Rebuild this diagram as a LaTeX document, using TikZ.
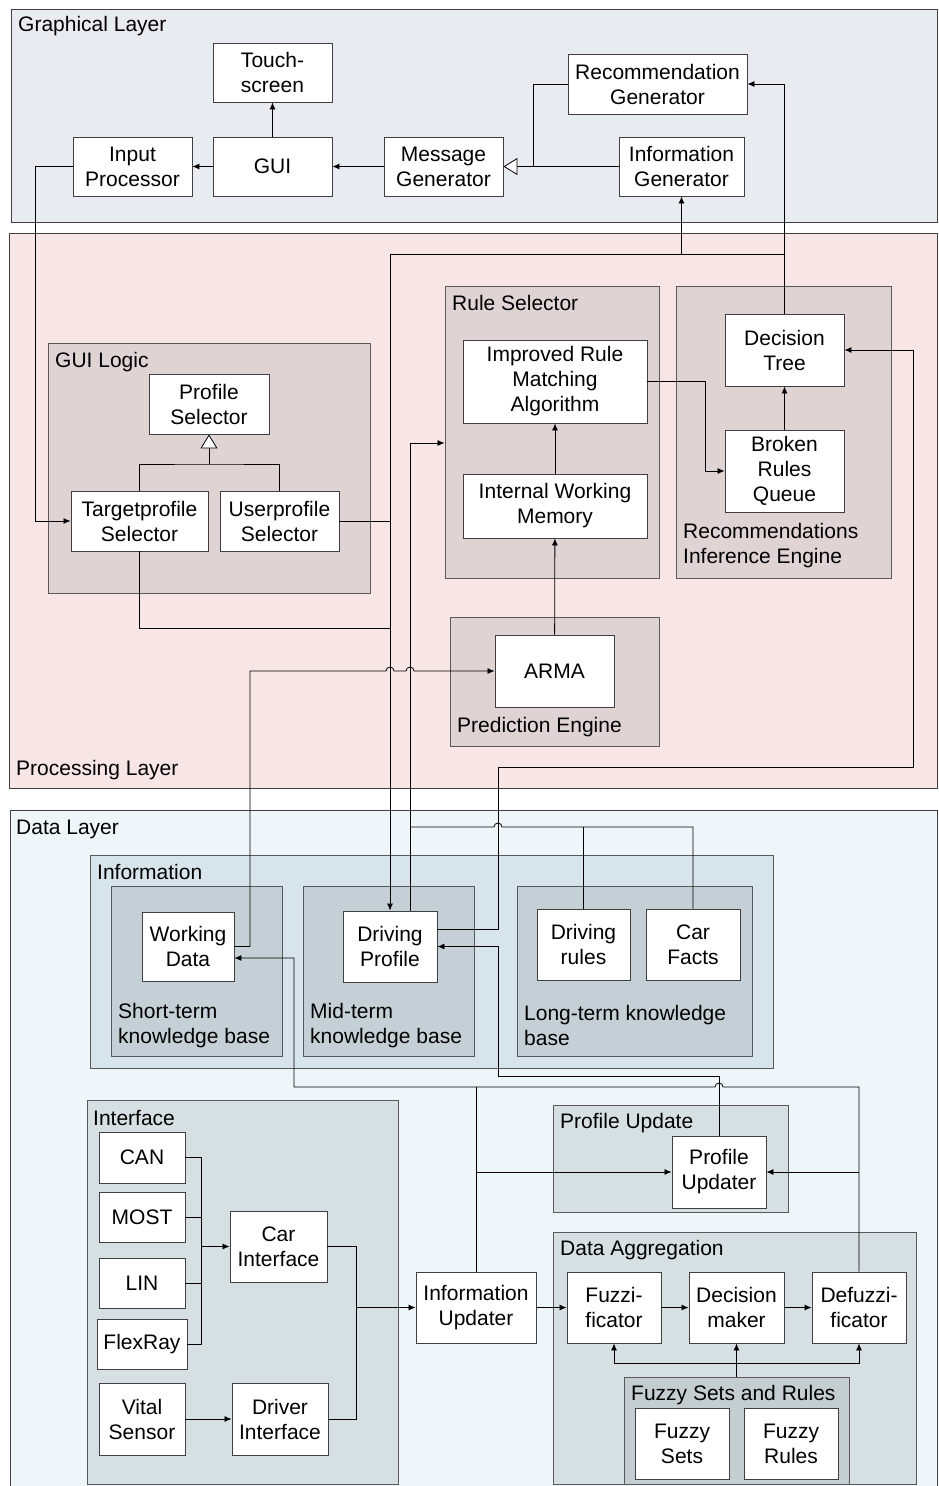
\documentclass[tikz,border=0pt]{standalone}
\usepackage{fontspec}
\setmainfont{Liberation Sans}
\usetikzlibrary{arrows.meta,positioning}

\definecolor{glayerbg}{HTML}{E8EBF0}
\definecolor{playerbg}{HTML}{F8E5E6}
\definecolor{dlayerbg}{HTML}{EEF6F9}
\definecolor{pgroupbg}{HTML}{E0D3D4}
\definecolor{infobg}{HTML}{D8E4EC}
\definecolor{kbbg}{HTML}{C5D0D6}
\definecolor{dgroupbg}{HTML}{D6DFE1}
\definecolor{fuzzybg}{HTML}{C4CDD0}

\tikzset{
  layer/.style={draw=black!75, line width=0.9pt, inner sep=0pt},
  group/.style={draw=black!65, line width=0.9pt, inner sep=0pt},
  block/.style={draw=black!75, fill=white, line width=0.9pt, align=center, inner sep=0pt},
  lbl/.style={anchor=west, inner sep=0pt, align=left},
  conn/.style={line width=0.8pt},
  arr/.style={conn, -{Latex[length=7pt,width=6pt]}},
  gen/.style={conn, -{Triangle[length=14pt,width=17pt,fill=white]}},
}

\begin{document}
\begin{tikzpicture}[x=1pt,y=-1pt,font=\fontsize{21}{25}\selectfont]
  \useasboundingbox (0,0) rectangle (938,1486);

  % Layers
  \node[layer, fill=glayerbg, minimum width=926pt, minimum height=213pt] (glayer) at (474,115.5) {};
  \node[layer, fill=playerbg, minimum width=928pt, minimum height=555pt] (player) at (473,510.5) {};
  \node[layer, fill=dlayerbg, minimum width=927pt, minimum height=690pt] (dlayer) at (473.5,1155) {};
  \node[lbl] (glabel) at (18,26) {Graphical Layer};
  \node[lbl] (plabel) at (16,770) {Processing Layer};
  \node[lbl] (dlabel) at (16,829) {Data Layer};

  % Groups in the processing layer
  \node[group, fill=pgroupbg, minimum width=322pt, minimum height=250pt] (guilogic) at (209,468) {};
  \node[lbl] (guilogiclbl) at (55,362) {GUI Logic};
  \node[group, fill=pgroupbg, minimum width=214pt, minimum height=292pt] (rulesel) at (552,432) {};
  \node[lbl] (ruleselbl) at (452,303) {Rule Selector};
  \node[group, fill=pgroupbg, minimum width=215pt, minimum height=292pt] (rieng) at (783.5,432) {};
  \node[lbl] (rienglbl) at (683,545.5) {Recommendations\\Inference Engine};
  \node[group, fill=pgroupbg, minimum width=209pt, minimum height=129pt] (predeng) at (554.5,681.5) {};
  \node[lbl] (predenglbl) at (457,727) {Prediction Engine};

  % Groups in the data layer
  \node[group, fill=infobg, minimum width=683pt, minimum height=213pt] (info) at (431.5,961.5) {};
  \node[lbl] (infolbl) at (97,872) {Information};
  \node[group, fill=kbbg, minimum width=171pt, minimum height=170pt] (stkb) at (196.5,971) {};
  \node[lbl] (stkblbl) at (118,1025.5) {Short-term\\knowledge base};
  \node[group, fill=kbbg, minimum width=171pt, minimum height=170pt] (mtkb) at (388.5,971) {};
  \node[lbl] (mtkblbl) at (310,1025.5) {Mid-term\\knowledge base};
  \node[group, fill=kbbg, minimum width=235pt, minimum height=170pt] (ltkb) at (634.5,971) {};
  \node[lbl] (ltkblbl) at (524,1025.5) {Long-term knowledge\\base};
  \node[group, fill=dgroupbg, minimum width=311pt, minimum height=384pt] (iface) at (242.5,1292) {};
  \node[lbl] (ifacelbl) at (93,1118) {Interface};
  \node[group, fill=dgroupbg, minimum width=235pt, minimum height=107pt] (profupd) at (670.5,1158.5) {};
  \node[lbl] (profupdlbl) at (560,1123) {Profile Update};
  \node[group, fill=dgroupbg, minimum width=363pt, minimum height=252pt] (dagg) at (734.5,1358) {};
  \node[lbl] (dagglbl) at (560,1250) {Data Aggregation};
  \node[group, fill=fuzzybg, minimum width=225pt, minimum height=107pt] (fsr) at (736.5,1430.5) {};
  \node[lbl] (fsrlbl) at (631,1395) {Fuzzy Sets and Rules};

  % Graphical layer blocks
  \node[block, minimum width=119pt, minimum height=59pt] (touch) at (272.5,72.5) {Touch-\\screen};
  \node[block, minimum width=119pt, minimum height=59pt] (gui) at (272.5,166.5) {GUI};
  \node[block, minimum width=119pt, minimum height=59pt] (inproc) at (132.5,166.5) {Input\\Processor};
  \node[block, minimum width=119pt, minimum height=59pt] (msggen) at (443.5,166.5) {Message\\Generator};
  \node[block, minimum width=179pt, minimum height=60pt] (recgen) at (657.5,84) {Recommendation\\Generator};
  \node[block, minimum width=125pt, minimum height=59pt] (infogen) at (681.5,166.5) {Information\\Generator};

  % Processing layer blocks
  \node[block, minimum width=120pt, minimum height=60pt] (profsel) at (209,404) {Profile\\Selector};
  \node[block, minimum width=137pt, minimum height=60pt] (tgtsel) at (139.5,521) {Targetprofile\\Selector};
  \node[block, minimum width=119pt, minimum height=60pt] (usrsel) at (279.5,521) {Userprofile\\Selector};
  \node[block, minimum width=184pt, minimum height=83pt] (irma) at (555,381.5) {Improved Rule\\Matching\\Algorithm};
  \node[block, minimum width=184pt, minimum height=64pt] (iwm) at (555,506) {Internal Working\\Memory};
  \node[block, minimum width=119pt, minimum height=72pt] (dtree) at (784.5,350) {Decision\\Tree};
  \node[block, minimum width=119pt, minimum height=82pt] (brq) at (784.5,471) {Broken\\Rules\\Queue};
  \node[block, minimum width=119pt, minimum height=72pt] (arma) at (554.5,671) {ARMA};

  % Data layer blocks
  \node[block, minimum width=92pt, minimum height=69pt] (wdata) at (188,946.5) {Working\\Data};
  \node[block, minimum width=94pt, minimum height=71pt] (dprof) at (390,946.5) {Driving\\Profile};
  \node[block, minimum width=93pt, minimum height=71pt] (drules) at (583.5,944.5) {Driving\\rules};
  \node[block, minimum width=94pt, minimum height=71pt] (carfacts) at (693,944.5) {Car\\Facts};
  \node[block, minimum width=86pt, minimum height=51pt] (can) at (142,1157.5) {CAN};
  \node[block, minimum width=86pt, minimum height=50pt] (most) at (142,1217) {MOST};
  \node[block, minimum width=86pt, minimum height=50pt] (lin) at (142,1283) {LIN};
  \node[block, minimum width=90pt, minimum height=50pt] (flexray) at (142,1344) {FlexRay};
  \node[block, minimum width=86pt, minimum height=72pt] (vital) at (142,1419) {Vital\\Sensor};
  \node[block, minimum width=97pt, minimum height=71pt] (carif) at (278.5,1246.5) {Car\\Interface};
  \node[block, minimum width=96pt, minimum height=72pt] (drvif) at (280,1419) {Driver\\Interface};
  \node[block, minimum width=120pt, minimum height=71pt] (infoupd) at (476,1307.5) {Information\\Updater};
  \node[block, minimum width=94pt, minimum height=72pt] (profupdr) at (719,1172) {Profile\\Updater};
  \node[block, minimum width=94pt, minimum height=71pt] (fuzz) at (614,1307.5) {Fuzzi-\\ficator};
  \node[block, minimum width=95pt, minimum height=71pt] (decm) at (736.5,1307.5) {Decision\\maker};
  \node[block, minimum width=94pt, minimum height=71pt] (defuzz) at (859,1307.5) {Defuzzi-\\ficator};
  \node[block, minimum width=94pt, minimum height=71pt] (fsets) at (682,1443.5) {Fuzzy\\Sets};
  \node[block, minimum width=94pt, minimum height=71pt] (frules) at (791,1443.5) {Fuzzy\\Rules};

  % Junctions
  \coordinate (genjoin) at (533,166.5);
  \coordinate (pjoin) at (209,464);
  \coordinate (infobus) at (390,254);
  \coordinate (tgtjoin) at (390,628);
  \coordinate (rsjoin) at (410,443);
  \coordinate (ltbus) at (410,827);
  \coordinate (cbus) at (201,1246.5);
  \coordinate (ifjoin) at (356,1307.5);
  \coordinate (fjoin) at (736.5,1363);
  \coordinate (updbus) at (476,1087);
  \coordinate (defbus) at (859,1087);

  % Graphical layer connectors
  \draw[arr] (gui) -- (touch);
  \draw[arr] (gui) -- (inproc);
  \draw[arr] (msggen) -- (gui);
  \draw[gen] (infogen) -- (msggen);
  \draw[conn] (recgen.west) -| (genjoin);
  \draw[arr] (dtree.north) |- (recgen.east);
  \draw[arr] (usrsel.east) -| (infobus) -| (infogen.south);
  \draw[conn] (infobus -| infogen.south) -- (infobus -| dtree.north);

  % Processing layer connectors
  \draw[arr] (inproc.west) -- ++(-37,0) |- (tgtsel.west);
  \draw[conn] (tgtsel.north) |- (pjoin) -| (usrsel.north);
  \draw[gen] (pjoin) -- (profsel.south);
  \draw[conn] (tgtsel.south) |- (tgtjoin);
  \draw[arr] (infobus) -- (dprof.north);
  \draw[arr] ([xshift=20pt]dprof.north) -- (rsjoin) -- (rsjoin -| rulesel.west);
  \draw[arr] (irma.east) -- (705,381.5) |- (brq.west);
  \draw[arr] (brq) -- (dtree);
  \draw[arr] (iwm) -- (irma);
  \draw[arr] (arma) -- (iwm);
  \draw[arr] (wdata.east) -- (250,946.5) -- (250,671) -- (386,671)
    arc[start angle=180,end angle=360,radius=4] -- (406,671)
    arc[start angle=180,end angle=360,radius=4] -- (arma.west);
  \draw[arr] ([yshift=17.5pt]dprof.east) -- (498,929) -- (498,767) -- (913,767) |- (dtree.east);

  % Data layer connectors
  \draw[conn] (ltbus) -- (494,827) arc[start angle=180,end angle=360,radius=4]
    -- (ltbus -| carfacts.north) -- (carfacts.north);
  \draw[conn] (ltbus -| drules.north) -- (drules.north);
  \draw[arr] (defuzz.north) -- (defbus) -- (723,1087)
    arc[start angle=0,end angle=-180,radius=4] -- (294,1087) -- (294,958)
    -- ([yshift=-11.5pt]wdata.east);
  \draw[conn] (infoupd.north) -- (updbus);
  \draw[arr] (updbus |- profupdr.west) -- (profupdr.west);
  \draw[arr] (defbus |- profupdr.east) -- (profupdr.east);
  \draw[arr] (profupdr.north) -- (719,1076) -- (498,1076) |- (dprof.east);
  \draw[conn] (can.east) -| (cbus);
  \draw[conn] (flexray.east) -| (cbus);
  \draw[conn] (most.east) -- (most.east -| cbus);
  \draw[conn] (lin.east) -- (lin.east -| cbus);
  \draw[arr] (cbus) -- (carif.west);
  \draw[arr] (vital) -- (drvif);
  \draw[conn] (carif.east) -| (ifjoin);
  \draw[conn] (drvif.east) -| (ifjoin);
  \draw[arr] (ifjoin) -- (infoupd.west);
  \draw[arr] (infoupd) -- (fuzz);
  \draw[arr] (fuzz) -- (decm);
  \draw[arr] (decm) -- (defuzz);
  \draw[arr] (fsr.north) -- (decm.south);
  \draw[arr] (fjoin) -| (fuzz.south);
  \draw[arr] (fjoin) -| (defuzz.south);
\end{tikzpicture}
\end{document}
